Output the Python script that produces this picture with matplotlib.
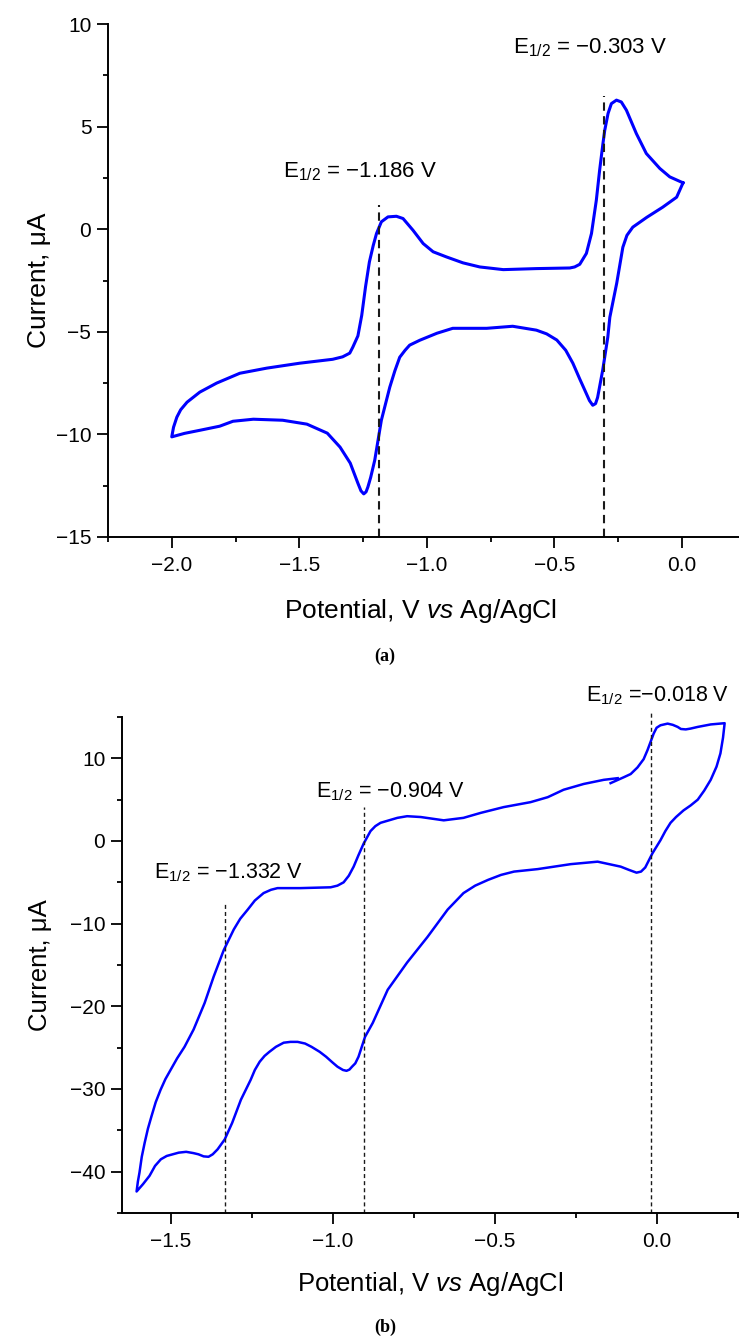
import matplotlib
matplotlib.use("Agg")
import matplotlib.pyplot as plt
from matplotlib.ticker import MultipleLocator

plt.rcParams['font.family'] = ['Liberation Sans', 'DejaVu Sans']
plt.rcParams['mathtext.fontset'] = 'custom'
plt.rcParams['mathtext.rm'] = 'Liberation Sans'
plt.rcParams['mathtext.it'] = 'Liberation Sans:italic'
plt.rcParams['mathtext.bf'] = 'Liberation Sans:bold'

# ---------------- Panel (a) data ----------------
pot_a = [0.005, -0.047, -0.086, -0.139, -0.178, -0.217, -0.237, -0.256, -0.276, -0.289,
         -0.302, -0.309, -0.322, -0.335, -0.354, -0.374, -0.40, -0.42, -0.439, -0.57,
         -0.70, -0.792, -0.858, -0.923, -0.975, -1.014, -1.054, -1.093, -1.119, -1.152,
         -1.178, -1.197, -1.21, -1.225, -1.24, -1.255, -1.27, -1.29, -1.302, -1.33,
         -1.369, -1.498, -1.627, -1.733, -1.824, -1.89, -1.94, -1.965, -1.98, -1.993,
         -2.0,
         -1.95, -1.89, -1.812, -1.76, -1.68, -1.565, -1.47, -1.39, -1.34, -1.30,
         -1.27, -1.258, -1.247, -1.238, -1.231, -1.22, -1.204, -1.178, -1.145, -1.125,
         -1.106, -1.085, -1.067, -1.027, -0.96, -0.898, -0.765, -0.663, -0.57, -0.53,
         -0.49, -0.455, -0.427, -0.40, -0.38, -0.362, -0.349, -0.338, -0.33, -0.31,
         -0.29, -0.282, -0.255, -0.231, -0.215, -0.192, -0.137, -0.075, -0.02, 0.005]
cur_a = [2.26, 2.55, 2.96, 3.69, 4.66, 5.8, 6.2, 6.29, 6.12, 5.64,
         4.82, 4.18, 2.88, 1.41, -0.21, -1.18, -1.71, -1.84, -1.89, -1.92,
         -1.97, -1.84, -1.64, -1.35, -1.1, -0.7, -0.05, 0.52, 0.63, 0.6,
         0.36, -0.21, -0.8, -1.6, -2.8, -4.2, -5.2, -5.75, -6.04, -6.22,
         -6.34, -6.53, -6.77, -7.02, -7.5, -7.94, -8.43, -8.8, -9.16, -9.65,
         -10.12,
         -9.95, -9.8, -9.6, -9.36, -9.26, -9.31, -9.5, -9.94, -10.62, -11.4,
         -12.38, -12.75, -12.9, -12.8, -12.57, -12.1, -11.26, -9.31, -7.7, -6.9,
         -6.24, -5.9, -5.65, -5.41, -5.07, -4.83, -4.83, -4.73, -4.92, -5.1,
         -5.4, -5.9, -6.53, -7.3, -7.85, -8.35, -8.58, -8.5, -8.2, -6.87,
         -5.26, -4.29, -2.63, -0.88, -0.3, 0.1, 0.58, 1.07, 1.56, 2.26]
e_half_a = [-1.186, -0.303]
e_top_a = [1.2, 6.5]
labels_a = ['E$_{1/2}$ = −1.186 V', 'E$_{1/2}$ = −0.303 V']
label_pos_a = [(-1.565, 2.53), (-0.663, 8.58)]

# ---------------- Panel (b) data ----------------
pot_b = [-0.142, -0.102, -0.08, -0.059, -0.04, -0.028, -0.009, 0.0, 0.012, 0.034,
         0.05, 0.065, 0.075, 0.09, 0.105, 0.127, 0.167, 0.21, 0.205, 0.197,
         0.185, 0.167, 0.147, 0.127, 0.105, 0.083, 0.06, 0.043, 0.027, 0.012,
         -0.013, -0.035, -0.048, -0.062, -0.085, -0.111, -0.182, -0.265, -0.367, -0.44,
         -0.48, -0.52, -0.56, -0.596, -0.645, -0.707, -0.77, -0.83, -0.876, -0.90,
         -0.92, -0.93, -0.94, -0.948, -0.957, -0.968, -0.985, -1.0, -1.02, -1.04,
         -1.065, -1.085, -1.108, -1.13, -1.151, -1.175, -1.195, -1.21, -1.225, -1.24,
         -1.253, -1.283, -1.31, -1.333, -1.355, -1.37, -1.383, -1.398, -1.414, -1.43,
         -1.452, -1.475, -1.494, -1.512, -1.53, -1.548, -1.565, -1.585, -1.605,
         -1.601, -1.596, -1.589, -1.58, -1.57, -1.559, -1.546, -1.531, -1.516, -1.5,
         -1.48, -1.457, -1.429, -1.395, -1.367, -1.336, -1.305, -1.285, -1.262, -1.24,
         -1.213, -1.19, -1.17, -1.1, -1.006, -0.985, -0.966, -0.95, -0.935, -0.92,
         -0.904, -0.883, -0.868, -0.852, -0.8, -0.77, -0.728, -0.657, -0.596, -0.543,
         -0.472, -0.389, -0.336, -0.287, -0.225, -0.163, -0.12]
cur_b = [7.0, 7.7, 8.1, 8.9, 9.9, 11.0, 13.0, 13.7, 14.0, 14.2,
         14.05, 13.8, 13.55, 13.5, 13.6, 13.8, 14.1, 14.25, 12.5, 10.6,
         9.0, 7.4, 6.1, 5.0, 4.3, 3.7, 2.9, 2.2, 1.2, 0.1,
         -1.5, -3.2, -3.7, -3.83, -3.5, -3.1, -2.5, -2.8, -3.4, -3.7,
         -4.1, -4.7, -5.4, -6.3, -8.3, -11.6, -14.7, -18.0, -22.0, -23.7,
         -26.1, -26.9, -27.3, -27.65, -27.8, -27.7, -27.3, -26.8, -26.1, -25.5,
         -24.9, -24.5, -24.3, -24.3, -24.4, -24.9, -25.5, -26.0, -26.7, -27.7,
         -28.9, -31.3, -34.1, -36.1, -37.3, -37.9, -38.2, -38.15, -37.9, -37.75,
         -37.6, -37.7, -37.9, -38.1, -38.5, -39.3, -40.5, -41.5, -42.4,
         -41.2, -40.1, -38.2, -36.5, -34.8, -33.3, -31.6, -30.1, -28.8, -27.7,
         -26.3, -24.9, -22.8, -19.6, -16.4, -13.2, -10.7, -9.4, -8.3, -7.2,
         -6.3, -5.9, -5.7, -5.7, -5.6, -5.4, -5.0, -4.2, -3.1, -1.7,
         -0.3, 1.2, 1.8, 2.2, 2.8, 3.0, 2.9, 2.5, 2.8, 3.4,
         4.1, 4.7, 5.3, 6.2, 6.9, 7.4, 7.6]
e_half_b = [-1.332, -0.904, -0.018]
e_top_b = [-7.4, 4.1, 15.6]
labels_b = ['E$_{1/2}$ = −1.332 V', 'E$_{1/2}$ = −0.904 V', 'E$_{1/2}$ =−0.018 V']
label_pos_b = [(-1.552, -4.47), (-1.052, 5.31), (-0.219, 16.9)]

W, H = 739, 1338
fig = plt.figure(figsize=(W / 100, H / 100), dpi=100)


def px_axes(left, top, right, bottom):
    return fig.add_axes([left / W, 1 - bottom / H, (right - left) / W, (bottom - top) / H])


def style(ax):
    for s in ['top', 'right']:
        ax.spines[s].set_visible(False)
    for s in ['left', 'bottom']:
        ax.spines[s].set_linewidth(1.4)
    ax.tick_params(which='major', direction='out', length=8, width=1.3, labelsize=15)
    ax.tick_params(which='minor', direction='out', length=3.6, width=1.3)
    ax.tick_params(axis='x', which='major', pad=5.5)
    ax.tick_params(axis='y', which='major', pad=4)


# ---------------- Panel (a) ----------------
ax1 = px_axes(108, 24, 108 + 2.5 * 255, 537)
style(ax1)
ax1.set_xlim(-2.25, 0.25)
ax1.set_ylim(-15, 10)
ax1.xaxis.set_major_locator(MultipleLocator(0.5))
ax1.xaxis.set_minor_locator(MultipleLocator(0.25))
ax1.yaxis.set_major_locator(MultipleLocator(5))
ax1.yaxis.set_minor_locator(MultipleLocator(2.5))
ax1.plot(pot_a, cur_a, color='#0000ff', lw=2.2, solid_joinstyle='round')
for e, t in zip(e_half_a, e_top_a):
    ax1.plot([e, e], [-15, t], color='#1a1a1a', lw=1.5, dashes=[4.0, 2.6])
for lab, (x, y) in zip(labels_a, label_pos_a):
    ax1.text(x, y, lab, fontsize=16, ha='left', va='baseline', clip_on=False)

fig.text(39 / W, 1 - 280 / H, 'Current, μA', rotation=90, fontsize=19,
         ha='center', va='center')
fig.text(420 / W, 1 - 618 / H, r'Potential, V $\mathit{vs}$ Ag/AgCl', fontsize=19,
         ha='center', va='baseline')
fig.text(385 / W, 1 - 656 / H, '(a)', fontsize=13, ha='center', va='center',
         family='Liberation Serif', weight='bold')

# ---------------- Panel (b) ----------------
ax2 = px_axes(122, 717, 122 + 1.9 * 324, 1213)
style(ax2)
ax2.set_xlim(-1.65, 0.25)
ax2.set_ylim(-45, 15)
ax2.xaxis.set_major_locator(MultipleLocator(0.5))
ax2.xaxis.set_minor_locator(MultipleLocator(0.25))
ax2.yaxis.set_major_locator(MultipleLocator(10))
ax2.yaxis.set_minor_locator(MultipleLocator(5))
ax2.plot(pot_b, cur_b, color='#0000ff', lw=1.8, solid_joinstyle='round')
for e, t in zip(e_half_b, e_top_b):
    ax2.plot([e, e], [-45, t], color='#1a1a1a', lw=1.0, dashes=[2.9, 2.2], clip_on=False)
for lab, (x, y) in zip(labels_b, label_pos_b):
    ax2.text(x, y, lab, fontsize=15.5, ha='left', va='baseline', clip_on=False)

fig.text(40 / W, 1 - 965 / H, 'Current, μA', rotation=90, fontsize=18.5,
         ha='center', va='center')
fig.text(430 / W, 1 - 1291 / H, r'Potential, V $\mathit{vs}$ Ag/AgCl', fontsize=18.5,
         ha='center', va='baseline')
fig.text(385 / W, 1 - 1327 / H, '(b)', fontsize=13, ha='center', va='center',
         family='Liberation Serif', weight='bold')

fig.savefig('out.png', dpi=100, facecolor='white')
